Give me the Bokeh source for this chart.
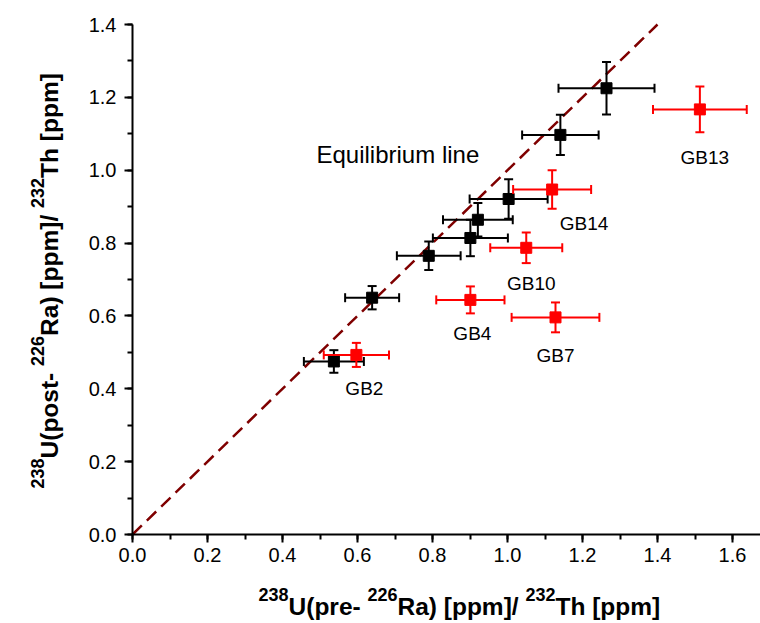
import numpy as np
from bokeh.plotting import figure
from bokeh.models import Label, Range1d, SingleIntervalTicker, PrintfTickFormatter, LinearAxis
from bokeh.embed import file_html
from bokeh.resources import INLINE

# ---------------- data ----------------
# samples on the equilibrium line (black)
bk_x = [0.537, 0.639, 0.790, 0.901, 0.921, 1.003, 1.141, 1.264]
bk_xerr = [0.080, 0.072, 0.085, 0.100, 0.093, 0.104, 0.102, 0.128]
bk_y = [0.475, 0.650, 0.765, 0.814, 0.864, 0.921, 1.097, 1.225]
bk_yerr = [0.031, 0.032, 0.039, 0.050, 0.046, 0.054, 0.055, 0.072]

# samples off the equilibrium line (red)
rd_names = ["GB2", "GB4", "GB10", "GB7", "GB14", "GB13"]
rd_x = [0.597, 0.901, 1.050, 1.128, 1.119, 1.513]
rd_xerr = [0.087, 0.091, 0.096, 0.117, 0.104, 0.125]
rd_y = [0.493, 0.644, 0.787, 0.596, 0.947, 1.167]
rd_yerr = [0.033, 0.037, 0.042, 0.041, 0.053, 0.063]

# equilibrium line
eq_x = [0.0, 1.4]
eq_y = [0.0, 1.4]
eq_text = "Equilibrium line"

x_title = [("238", True), ("U(pre- ", False), ("226", True), ("Ra) [ppm]/ ", False),
           ("232", True), ("Th [ppm]", False)]
y_title = [("238", True), ("U(post- ", False), ("226", True), ("Ra) [ppm]/ ", False),
           ("232", True), ("Th [ppm]", False)]

# ---------------- layout (canvas px) ----------------
W, H = 760, 623
X0_PX, Y0_PX = 132.0, 534.0        # pixel position of data origin
PXU_X = 375.0                      # px per x unit
Y_TOP = 1.4
Y_TOP_PX = 24.0
PXU_Y = (Y0_PX - Y_TOP_PX) / Y_TOP


def dx(px):
    return (px - X0_PX) / PXU_X


def dy(py):
    return (Y0_PX - py) / PXU_Y


FONT = "Liberation Sans"

p = figure(width=W, height=H, output_backend="svg", toolbar_location=None,
           x_axis_location=None, y_axis_location=None,
           x_range=Range1d(dx(0), dx(W)), y_range=Range1d(dy(H), dy(0)),
           min_border=0)
p.outline_line_color = None
p.xgrid.visible = False
p.ygrid.visible = False
p.background_fill_color = "white"
p.border_fill_color = "white"

xax = LinearAxis(fixed_location=0, bounds=(0, dx(W)))
yax = LinearAxis(fixed_location=0, bounds=(0, Y_TOP + 1e-4))
p.add_layout(xax, "below")
p.add_layout(yax, "left")

for ax in (xax, yax):
    ax.ticker = SingleIntervalTicker(interval=0.2, num_minor_ticks=2)
    ax.formatter = PrintfTickFormatter(format="%.1f")
    ax.axis_line_width = 2
    ax.axis_line_color = "black"
    ax.major_tick_line_width = 2
    ax.major_tick_line_color = "black"
    ax.minor_tick_line_width = 2
    ax.minor_tick_line_color = "black"
    ax.major_tick_in = 0
    ax.major_tick_out = 8
    ax.minor_tick_in = 0
    ax.minor_tick_out = 5
    ax.major_label_text_font = FONT
    ax.major_label_text_font_size = "20px"
    ax.major_label_text_color = "black"
xax.major_label_standoff = 5
yax.major_label_standoff = 8

# equilibrium line
p.line(eq_x, eq_y, line_color="#7f0000", line_width=2.5, line_dash="13 7")

cap_x = 4.5 / PXU_X
cap_y = 4.5 / PXU_Y


def draw_series(xs, xe, ys, ye, color):
    xs = np.array(xs); xe = np.array(xe); ys = np.array(ys); ye = np.array(ye)
    kw = dict(line_color=color, line_width=2)
    # horizontal bars + caps
    p.segment(xs - xe, ys, xs + xe, ys, **kw)
    p.segment(xs - xe, ys - cap_y, xs - xe, ys + cap_y, **kw)
    p.segment(xs + xe, ys - cap_y, xs + xe, ys + cap_y, **kw)
    # vertical bars + caps
    p.segment(xs, ys - ye, xs, ys + ye, **kw)
    p.segment(xs - cap_x, ys - ye, xs + cap_x, ys - ye, **kw)
    p.segment(xs - cap_x, ys + ye, xs + cap_x, ys + ye, **kw)
    p.scatter(xs, ys, marker="square", size=11, fill_color=color, line_color=color)


draw_series(bk_x, bk_xerr, bk_y, bk_yerr, "black")
draw_series(rd_x, rd_xerr, rd_y, rd_yerr, "#ff0000")

# sample labels: pixel offsets from the red points (right, down)
lab_dx = [8, 2, 5, 0, 32, 5]
lab_dy = [34, 34, 36, 38, 34, 48]
for name, x, y, ox, oy in zip(rd_names, rd_x, rd_y, lab_dx, lab_dy):
    p.add_layout(Label(x=x + ox / PXU_X, y=y - oy / PXU_Y, text=name,
                       text_font=FONT, text_font_size="19px", text_color="black",
                       text_align="center", text_baseline="alphabetic"))

p.add_layout(Label(x=dx(316), y=dy(154), text=eq_text,
                   text_font=FONT, text_font_size="24px", text_color="black",
                   text_align="left", text_baseline="alphabetic"))

# ---------------- axis titles with superscripts ----------------
BOLD_W = {'0': 556, '1': 556, '2': 556, '3': 556, '4': 556, '5': 556, '6': 556, '7': 556,
          '8': 556, '9': 556, 'U': 722, '(': 333, ')': 333, 'p': 611, 'r': 389, 'e': 556,
          'o': 611, 's': 556, 't': 333, '-': 333, ' ': 278, 'R': 722, 'a': 556, '[': 333,
          ']': 333, 'm': 889, '/': 278, 'T': 611, 'h': 611}
MAIN_FS, SUP_FS = 24.5, 18


def tw(s, fs):
    return sum(BOLD_W.get(c, 556) for c in s) * fs / 1000.0


pos = 258.0
for txt, sup in x_title:
    fs = SUP_FS if sup else MAIN_FS
    base = 594 if sup else 606
    p.add_layout(Label(x=dx(pos), y=dy(base), text=txt.rstrip(),
                       text_font=FONT, text_font_style="bold", text_font_size=f"{fs}px",
                       text_color="black", text_align="left", text_baseline="alphabetic"))
    pos += tw(txt, fs)

pos = 488.0
for txt, sup in y_title:
    fs = SUP_FS if sup else MAIN_FS
    base = 37 if sup else 49
    p.add_layout(Label(x=dx(base), y=dy(pos), text=txt.rstrip(), angle=np.pi / 2,
                       text_font=FONT, text_font_style="bold", text_font_size=f"{fs}px",
                       text_color="black", text_align="left", text_baseline="alphabetic"))
    pos -= tw(txt, fs)

open("out.html", "w").write(file_html(p, INLINE))
